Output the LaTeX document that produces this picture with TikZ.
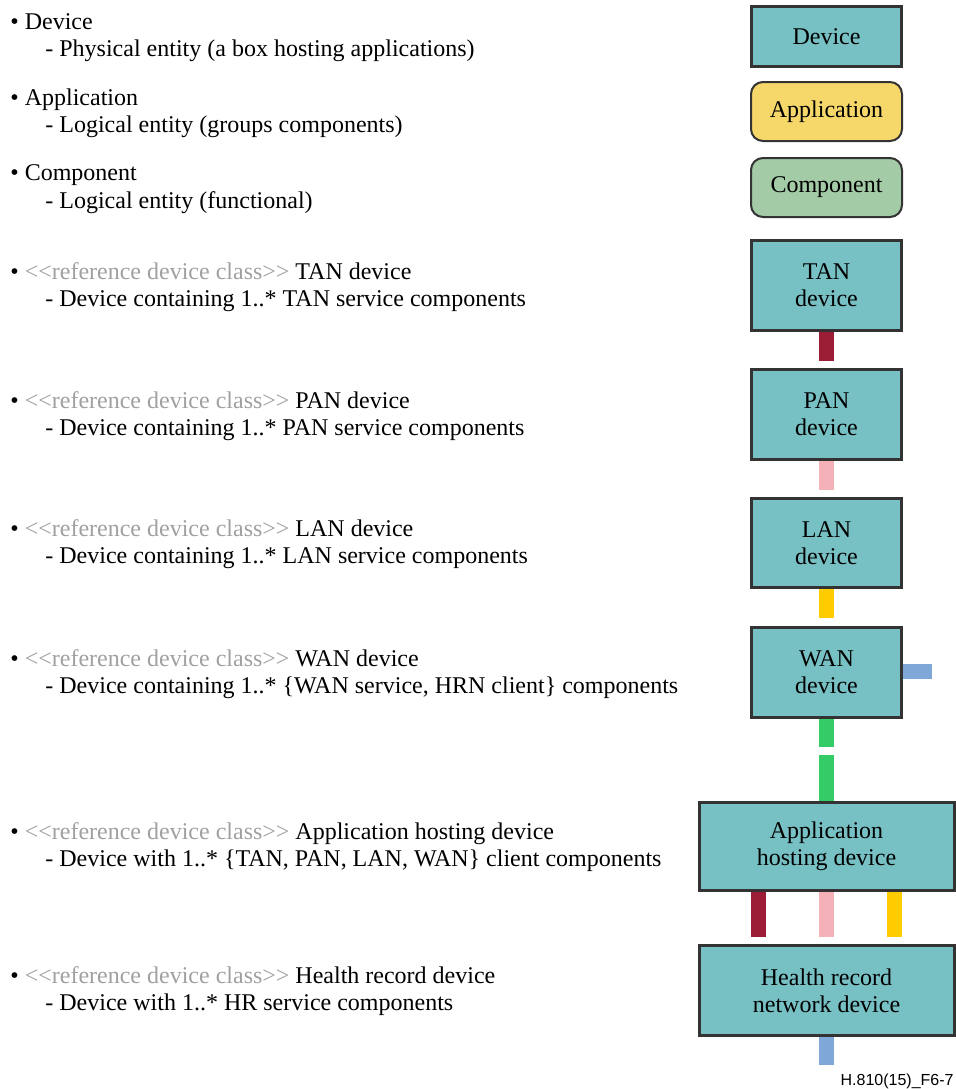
\documentclass[tikz,border=0pt]{standalone}
\usepackage{fontspec}
\setmainfont{Liberation Serif}
\newfontfamily\labelsans{Liberation Sans}
\definecolor{devteal}{HTML}{77C0C4}
\definecolor{appyellow}{HTML}{F6D86A}
\definecolor{compgreen}{HTML}{A3CBA6}
\definecolor{tanred}{HTML}{9B1C35}
\definecolor{panpink}{HTML}{F4B2B8}
\definecolor{lanyellow}{HTML}{FFCC00}
\definecolor{wangreen}{HTML}{33CC66}
\definecolor{hrblue}{HTML}{7FA8D8}
\definecolor{bordergray}{HTML}{333333}
\definecolor{stereo}{HTML}{A0A0A0}
\newcommand{\refclass}{\textcolor{stereo}{<\kern0pt<reference device class>\kern0pt>}}
\begin{document}
\begin{tikzpicture}[x=0.5pt,y=-0.5pt,
  devbox/.style={draw=bordergray,line width=1.5pt,fill=devteal,minimum width=75pt,
    align=center,inner sep=0pt,font=\fontsize{12}{13.5}\selectfont},
  roundbox/.style={draw=bordergray,line width=1pt,rounded corners=6pt,minimum width=75.5pt,
    minimum height=29.5pt,align=center,inner sep=0pt,font=\fontsize{12}{13.5}\selectfont},
  leftline/.style={anchor=base west,inner sep=0pt,font=\fontsize{12}{13.5}\selectfont},
  stub/.style={line width=7.5pt}]
\useasboundingbox (0,0) rectangle (956,1089);
% legend boxes
\node[devbox,minimum height=30pt] (device) at (826.5,36.5) {Device};
\node[roundbox,fill=appyellow] (application) at (826.5,111.5) {Application};
\node[roundbox,fill=compgreen] (component) at (826.5,187.5) {Component};
% device chain
\node[devbox,minimum height=45pt] (tan) at (826.5,285.5) {TAN\\device};
\node[devbox,minimum height=45pt] (pan) at (826.5,414.5) {PAN\\device};
\node[devbox,minimum height=44.5pt] (lan) at (826.5,543) {LAN\\device};
\node[devbox,minimum height=45pt] (wan) at (826.5,672.5) {WAN\\device};
\node[devbox,minimum height=44pt,minimum width=127.5pt] (host) at (826.5,846.5) {Application\\hosting device};
\node[devbox,minimum height=45pt,minimum width=127.5pt] (hr) at (826.5,990.5) {Health record\\network device};
% stub ends
\coordinate (tanend) at (826.5,361);
\coordinate (panend) at (826.5,490);
\coordinate (lanend) at (826.5,618);
\coordinate (wanend) at (826.5,747);
\coordinate (hostup) at (826.5,755);
\coordinate (hostred) at (758.5,937);
\coordinate (hostpink) at (826.5,937);
\coordinate (hostyellow) at (894.5,937);
\coordinate (hrend) at (826.5,1065);
\draw[stub,tanred] (tan.south) -- (tanend);
\draw[stub,panpink] (pan.south) -- (panend);
\draw[stub,lanyellow] (lan.south) -- (lanend);
\draw[stub,wangreen] (wan.south) -- (wanend);
\draw[stub,hrblue] ([yshift=0.5pt]wan.east) -- ++(29,0) coordinate (wanside);
\draw[stub,wangreen] (hostup) -- (host.north);
\draw[stub,tanred] (host.south -| hostred) -- (hostred);
\draw[stub,panpink] (host.south) -- (hostpink);
\draw[stub,lanyellow] (host.south -| hostyellow) -- (hostyellow);
\draw[stub,hrblue] (hr.south) -- (hrend);
% left texts
\node[leftline] (t1a) at (10,29) {• Device};
\node[leftline] (t1b) at (45,56) {- Physical entity (a box hosting applications)};
\node[leftline] (t2a) at (10,105) {• Application};
\node[leftline] (t2b) at (45,132) {- Logical entity (groups components)};
\node[leftline] (t3a) at (10,180) {• Component};
\node[leftline] (t3b) at (45,208) {- Logical entity (functional)};
\node[leftline] (t4a) at (10,279) {• \refclass{} TAN device};
\node[leftline] (t4b) at (45,306) {- Device containing 1..* TAN service components};
\node[leftline] (t5a) at (10,408) {• \refclass{} PAN device};
\node[leftline] (t5b) at (45,435) {- Device containing 1..* PAN service components};
\node[leftline] (t6a) at (10,536) {• \refclass{} LAN device};
\node[leftline] (t6b) at (45,563) {- Device containing 1..* LAN service components};
\node[leftline] (t7a) at (10,666) {• \refclass{} WAN device};
\node[leftline] (t7b) at (45,693) {- Device containing 1..* \{WAN service, HRN client\} components};
\node[leftline] (t8a) at (10,839) {• \refclass{} Application hosting device};
\node[leftline] (t8b) at (45,866) {- Device with 1..* \{TAN, PAN, LAN, WAN\} client components};
\node[leftline] (t9a) at (10,983) {• \refclass{} Health record device};
\node[leftline] (t9b) at (45,1010) {- Device with 1..* HR service components};
% figure label
\node[anchor=base east,inner sep=0pt,font=\labelsans\fontsize{8}{9}\selectfont] (figlabel) at (954,1085) {H.810(15)\_F6-7};
\end{tikzpicture}
\end{document}
